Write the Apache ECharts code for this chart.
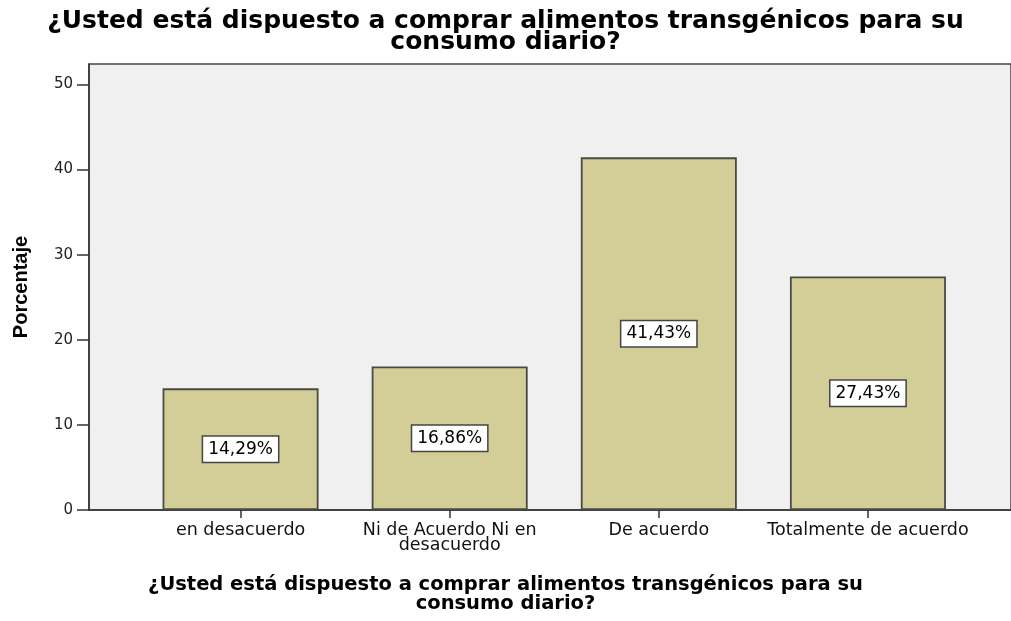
<!DOCTYPE html>
<html><head><meta charset="utf-8">
<script src="https://cdn.jsdelivr.net/npm/echarts@6/dist/echarts.min.js"></script>
<style>html,body{margin:0;padding:0;background:#fff}#c{width:1011px;height:621px}</style>
</head><body><div id="c"></div>
<script>
const categories = ['en desacuerdo', 'Ni de Acuerdo Ni en\ndesacuerdo', 'De acuerdo', 'Totalmente de acuerdo'];
const values = [14.29, 16.86, 41.43, 27.43];
const yTicks = [0, 10, 20, 30, 40, 50];
const titleText = '¿Usted está dispuesto a comprar alimentos transgénicos para su\nconsumo diario?';
const xTitleText = '¿Usted está dispuesto a comprar alimentos transgénicos para su\nconsumo diario?';
const yTitleText = 'Porcentaje';

const YMAX = 52.4;
const chart = echarts.init(document.getElementById('c'), null, {renderer: 'canvas'});
const SANS = 'Liberation Sans, Arial, sans-serif';
const WIDE = 'DejaVu Sans, Verdana, sans-serif';
chart.setOption({
  animation: false,
  backgroundColor: '#ffffff',
  title: [{
    text: titleText, left: 'center', top: 6,
    textStyle: {fontFamily: WIDE, fontWeight: 'bold', fontSize: 25, color: '#000', lineHeight: 21}
  }, {
    text: xTitleText, left: 'center', top: 571,
    textStyle: {fontFamily: WIDE, fontWeight: 'bold', fontSize: 19.5, color: '#000', lineHeight: 18.5}
  }],
  grid: [
    {left: 89, right: -3, top: 64, bottom: 111, show: true, backgroundColor: '#f0f0f0', borderColor: '#444', borderWidth: 1.5},
    {left: 136, right: 38.5, top: 64, bottom: 111}
  ],
  xAxis: [
    {gridIndex: 0, type: 'value', min: 0, max: 1, show: true,
      axisLine: {show: true, onZero: false, lineStyle: {color: '#333', width: 1.5}},
      axisTick: {show: false}, axisLabel: {show: false}, splitLine: {show: false}},
    {gridIndex: 1, type: 'category', data: categories,
      axisLine: {show: false}, axisTick: {show: true, alignWithLabel: true, length: 8, lineStyle: {color: '#333', width: 1.5}},
      axisLabel: {fontFamily: WIDE, fontSize: 17.5, color: '#111', lineHeight: 15, margin: 13, interval: 0}}
  ],
  yAxis: [
    {gridIndex: 0, type: 'value', min: 0, max: YMAX, interval: 10,
      name: yTitleText, nameLocation: 'middle', nameGap: 58, nameRotate: 90,
      nameTextStyle: {fontFamily: SANS, fontWeight: 'bold', fontSize: 20, color: '#000'},
      axisLine: {show: true, lineStyle: {color: '#333', width: 1.5}},
      axisTick: {show: true, length: 12, customValues: yTicks, lineStyle: {color: '#333', width: 1.5}},
      axisLabel: {fontFamily: WIDE, fontSize: 15, color: '#222', margin: 16, customValues: yTicks},
      splitLine: {show: false}},
    {gridIndex: 1, type: 'value', min: 0, max: YMAX, show: false, splitLine: {show: false}}
  ],
  series: [{
    type: 'bar', xAxisIndex: 1, yAxisIndex: 1, data: values, barWidth: 156,
    itemStyle: {color: '#d3ce97', borderColor: '#4a4a44', borderWidth: 1.8},
    label: {show: true, position: 'inside', fontFamily: WIDE, fontSize: 17, color: '#000',
      backgroundColor: '#fff', borderColor: '#444', borderWidth: 1.5, padding: [5, 5, 3, 5],
      formatter: p => p.value.toFixed(2).replace('.', ',') + '%'}
  }]
});
</script></body></html>
